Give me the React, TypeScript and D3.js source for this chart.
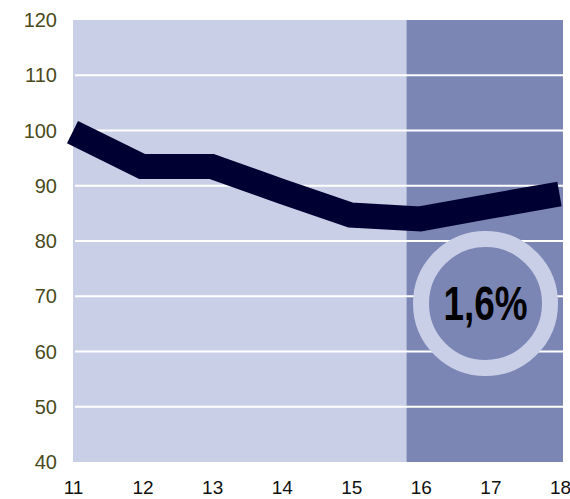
import React from "react";
import * as d3 from "d3";

// index values per year (11 = 2011 ...)
const years = [11, 12, 13, 14, 15, 16, 17, 18];
const values = [99.7, 93.5, 93.5, 89.0, 84.7, 84.0, 86.3, 88.5];
const yTicks = [40, 50, 60, 70, 80, 90, 100, 110, 120];
const forecastFrom = 15.8;
const badgeLabel = "1,6%";

const W = 570,
  H = 499;

export default function App() {
  const plot = { left: 73, right: 563, top: 20, bottom: 462 };

  const x = d3.scaleLinear().domain([11, 18]).range([72.5, 559.5]);
  const y = d3.scaleLinear().domain([40, 120]).range([plot.bottom, plot.top]);

  const line = d3
    .line<number>()
    .x((d, i) => x(years[i]))
    .y((d) => y(d));

  const split = x(forecastFrom);
  const cx = 485.5,
    cy = 303.5,
    r = 64.5;

  return (
    <svg
      width={W}
      height={H}
      style={{ position: "absolute", left: 0, top: 0, display: "block" }}
      fontFamily="'Liberation Sans', Arial, sans-serif"
    >
      {/* background areas */}
      <rect x={plot.left} y={plot.top} width={split - plot.left} height={plot.bottom - plot.top} fill="#cacfe8" />
      <rect x={split} y={plot.top} width={plot.right - split} height={plot.bottom - plot.top} fill="#7b86b4" />

      {/* gridlines */}
      {yTicks
        .filter((t) => t > 40 && t < 120)
        .map((t) => (
          <line key={t} x1={plot.left + 2} x2={plot.right} y1={y(t)} y2={y(t)} stroke="#fff" strokeWidth={2} />
        ))}

      {/* y labels */}
      {yTicks.map((t) => (
        <text key={t} x={57} y={y(t)} dy="0.36em" textAnchor="end" fontSize={20} fill="#4a4a1c">
          {t}
        </text>
      ))}

      {/* x labels */}
      {years.map((yr) => (
        <text key={yr} x={x(yr) + 1} y={494} textAnchor="middle" fontSize={19} fill="#111">
          {yr}
        </text>
      ))}

      {/* main line */}
      <path
        d={line(values) || ""}
        fill="none"
        stroke="#000033"
        strokeWidth={25}
        strokeLinejoin="miter"
        strokeLinecap="butt"
      />

      {/* badge */}
      <circle cx={cx} cy={cy} r={r} fill="#7b86b4" stroke="#cacfe8" strokeWidth={16} />
      <text
        x={cx}
        y={320}
        textAnchor="middle"
        fontSize={48}
        fontWeight="bold"
        fill="#000"
        fontFamily="'Liberation Sans Narrow', 'Liberation Sans', Arial, sans-serif"
        textLength={84}
        lengthAdjust="spacingAndGlyphs"
      >
        {badgeLabel}
      </text>
    </svg>
  );
}
